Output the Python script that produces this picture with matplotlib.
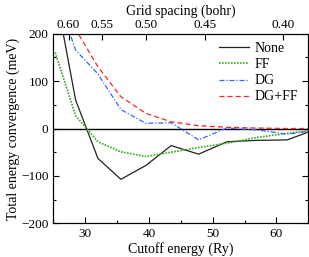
import matplotlib
matplotlib.use("Agg")
import matplotlib.pyplot as plt
from matplotlib.ticker import MultipleLocator

plt.rcParams['font.family'] = ['Liberation Serif', 'DejaVu Serif']
plt.rcParams['mathtext.fontset'] = 'stix'

# cutoff energies (Ry)
ecut = [25.3, 28.5, 32.0, 35.6, 39.5, 43.5, 47.8, 52.2, 56.9, 61.7, 66.7]
none_vals = [290, 60, -63, -107, -78, -36, -54, -28, -25, -24, 1]
ff_vals = [160, 27, -28, -49, -59, -50, -40, -31, -19, -10, -2]
dg_vals = [290, 165, 115, 40, 11, 12, -24, 1, -3, -12, -3]
dgff_vals = [290, 209, 130, 67, 32, 14, 6, 2.5, 1, 0, 0]

# top axis (grid spacing) tick labels and their cutoff-energy positions
grid_labels = ["0.60", "0.55", "0.50", "0.45", "0.40"]
grid_pos = [27.4, 32.7, 39.6, 48.8, 61.0]

fig = plt.figure(figsize=(3.09, 2.57), dpi=100)
ax = fig.add_axes([0.1725, 0.1304, 0.8252, 0.7392])

ax.axhline(0, color='black', lw=1.0, zorder=1)
ax.plot(ecut, none_vals, color='#222222', lw=0.9, ls='-', label='None')
ax.plot(ecut, ff_vals, color='#33aa1a', lw=1.2, ls=(0, (1, 0.8)), label='FF')
ax.plot(ecut, dg_vals, color='#3366ff', lw=0.9, ls=(0, (4, 1.5, 1, 1.5)), label='DG')
ax.plot(ecut, dgff_vals, color='#ff2020', lw=0.9, ls=(0, (4, 2.5)), label='DG+FF')

ax.set_xlim(25, 65)
ax.set_ylim(-200, 200)
ax.xaxis.set_major_locator(MultipleLocator(10))
ax.xaxis.set_minor_locator(MultipleLocator(5))
ax.yaxis.set_major_locator(MultipleLocator(100))
ax.yaxis.set_minor_locator(MultipleLocator(50))
ax.tick_params(which='both', direction='in', right=True, top=False, labelsize=9.5, width=0.8)
ax.tick_params(which='major', length=4)
ax.tick_params(which='minor', length=2.5)
ax.set_xticks([30, 40, 50, 60])
ax.set_xticklabels(['30', '40', '50', '60'])
ax.set_yticks([-200, -100, 0, 100, 200])
ax.set_yticklabels(['\u2212200', '\u2212100', '0', '100', '200'])

ax.set_xlabel('Cutoff energy (Ry)', fontsize=10, labelpad=1)
ax.set_ylabel('Total energy convergence (meV)', fontsize=10, labelpad=1)

top = ax.twiny()
top.set_xlim(ax.get_xlim())
top.set_xticks(grid_pos)
top.set_xticklabels(grid_labels)
top.tick_params(direction='in', length=4, width=0.8, labelsize=9.5, pad=2)
top.set_xlabel('Grid spacing (bohr)', fontsize=10, labelpad=3)

for a in (ax, top):
    for s in a.spines.values():
        s.set_linewidth(0.8)

leg = ax.legend(loc='upper right', frameon=False, fontsize=10, handlelength=2.2,
                handletextpad=0.4, labelspacing=0.22, borderaxespad=0.3,
                bbox_to_anchor=(1.0, 1.005))

fig.savefig('out.png', dpi=100)
